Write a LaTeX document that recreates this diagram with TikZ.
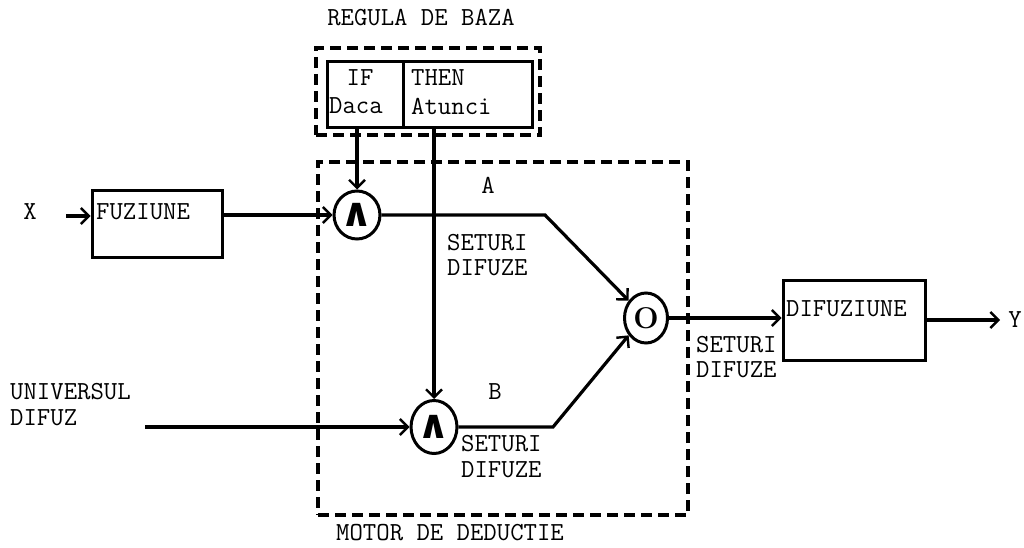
\documentclass[tikz,border=0pt]{standalone}
\usepackage{amsmath}
\usepackage{fontspec}
\newfontfamily\symf{DejaVu Sans}
\usetikzlibrary{arrows.meta,shapes.geometric}
\begin{document}
\begin{tikzpicture}[x=1pt,y=-1pt,
  wire/.style={line width=3.2pt},
  arr/.style={wire,-{Straight Barb[length=8pt,width=16pt,line width=2.4pt]}},
  dbox/.style={draw,line width=3.2pt,dash pattern=on 11pt off 6pt,inner sep=0},
  blk/.style={draw,line width=3pt,inner sep=0},
  lbl/.style={font=\ttfamily\fontsize{26}{30}\selectfont,inner sep=0},
  opnode/.style={draw,ellipse,line width=3pt,inner sep=0}]
\useasboundingbox (0,0) rectangle (1024,548);
% rule base
\node[lbl] (rbt) at (421,18) {REGULA DE BAZA};
\node[dbox,minimum width=224,minimum height=87] (rbox) at (428,91.5) {};
\node[blk,minimum width=76,minimum height=66] (ifc) at (365,95) {};
\node[blk,minimum width=129,minimum height=66] (thenc) at (467.5,95) {};
\node[lbl] (ift) at (360,78) {IF};
\node[lbl,anchor=west] (daca) at (329,106) {Daca};
\node[lbl,anchor=west] (thent) at (411,78) {THEN};
\node[lbl,anchor=west] (atunci) at (411,106) {Atunci};
% inference engine
\node[dbox,minimum width=370,minimum height=353] (motor) at (503,338.5) {};
\node[lbl] (motort) at (450,533) {MOTOR DE DEDUCTIE};
% fuzzification
\node[lbl] (xt) at (30,212) {X};
\coordinate (xin) at (66,216);
\node[blk,minimum width=130,minimum height=67] (fuz) at (157,223.5) {};
\node[lbl,anchor=west] (fuzt) at (96,212) {FUZIUNE};
% operators
\node[opnode,minimum width=40,minimum height=48] (and1) at (357,215) {\symf\bfseries\fontsize{40}{40}\selectfont ∧};
\node[opnode,minimum width=39,minimum height=53] (and2) at (434,427) {\symf\bfseries\fontsize{40}{40}\selectfont ∧};
\node[opnode,minimum width=43,minimum height=50] (orc) at (646,318) {\rmfamily\bfseries\fontsize{30}{30}\selectfont O};
\coordinate (ka) at (545,215);
\coordinate (kb) at (553,427);
% universe
\node[lbl,anchor=west] (univ) at (10,392) {UNIVERSUL};
\node[lbl,anchor=west] (difuz) at (10,418) {DIFUZ};
\coordinate (uin) at (145,427);
% defuzzification
\node[blk,minimum width=142,minimum height=80] (dif) at (854,320) {};
\node[lbl,anchor=west] (dift) at (786,309) {DIFUZIUNE};
\coordinate (yout) at (1000,320);
\node[lbl] (yt) at (1015,320) {Y};
% labels
\node[lbl] (at) at (488,185) {A};
\node[lbl] (bt) at (495,392) {B};
\node[lbl,anchor=west] (s1) at (447,243) {SETURI};
\node[lbl,anchor=west] (d1) at (447,268) {DIFUZE};
\node[lbl,anchor=west] (s2) at (461,444) {SETURI};
\node[lbl,anchor=west] (d2) at (461,470) {DIFUZE};
\node[lbl,anchor=west] (s3) at (696,345) {SETURI};
\node[lbl,anchor=west] (d3) at (696,370) {DIFUZE};
% connectors
\draw[arr] (xin) -- (xin -| fuz.west);
\draw[arr] (and1 -| fuz.east) -- (and1.west);
\draw[arr] (ifc.south -| and1) -- (and1.north);
\draw[arr] (thenc.south -| and2) -- (and2.north);
\draw[arr] (and1.east) -- (ka) -- (orc.135);
\draw[arr] (uin) -- (and2.west);
\draw[arr] (and2.east) -- (kb) -- (orc.225);
\draw[arr] (orc.east) -- (orc -| dif.west);
\draw[arr] (dif.east) -- (yout);
\end{tikzpicture}
\end{document}
